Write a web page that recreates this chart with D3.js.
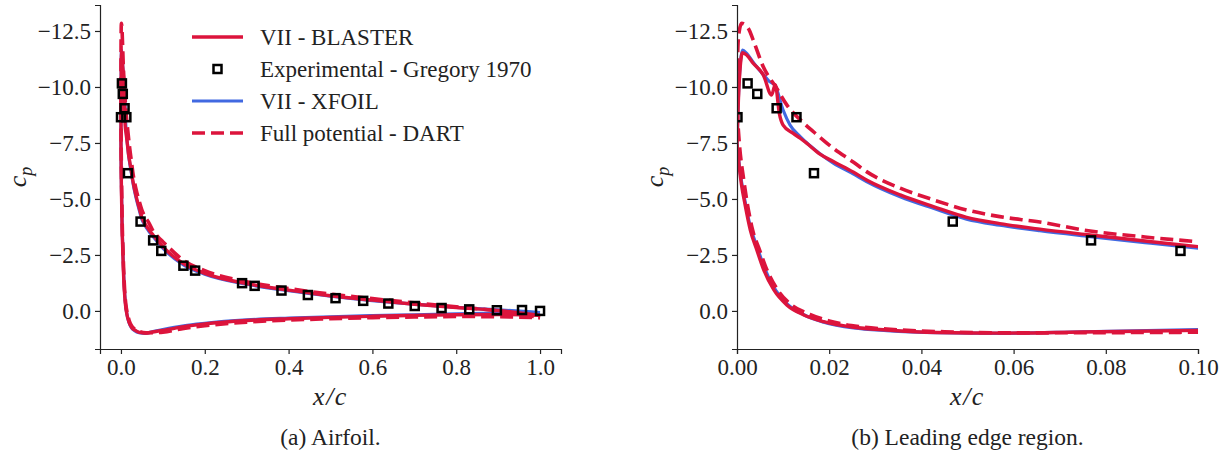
<!DOCTYPE html>
<html>
<head>
<meta charset="utf-8">
<script src="https://cdn.jsdelivr.net/npm/d3@7"></script>
<style>
  html, body { margin: 0; padding: 0; background: #fff; }
  svg { display: block; }
  text { font-family: "Liberation Serif", "Times New Roman", serif; fill: #222; }
</style>
</head>
<body>
<svg id="chart" width="1225" height="454"></svg>
<script>
// ---------- DATA ----------
const yTicks = [-12.5, -10.0, -7.5, -5.0, -2.5, 0.0];
const xTicksFull = [0.0, 0.2, 0.4, 0.6, 0.8, 1.0];
const xTicksLE = [0.00, 0.02, 0.04, 0.06, 0.08, 0.10];

const legendLabels = ["VII - BLASTER", "Experimental - Gregory 1970", "VII - XFOIL", "Full potential - DART"];
const captions = ["(a) Airfoil.", "(b) Leading edge region."];

// Experimental - Gregory 1970
const expX  = [0.0001, 0.0023, 0.0044, 0.0086, 0.0129, 0.0167, 0.0468, 0.0768, 0.0962, 0.149, 0.177, 0.289, 0.319, 0.383, 0.446, 0.512, 0.578, 0.638, 0.701, 0.765, 0.831, 0.897, 0.957, 1.0];
const expCp = [-8.65, -10.16, -9.69, -9.05, -8.65, -6.15, -3.99, -3.15, -2.68, -2.02, -1.80, -1.24, -1.12, -0.91, -0.71, -0.57, -0.45, -0.33, -0.22, -0.13, -0.07, -0.03, -0.04, 0.0];

// VII - BLASTER
const blasterUpperX  = [0, 0.0003, 0.0007, 0.0012, 0.0021, 0.0035, 0.0057, 0.0075, 0.0083, 0.0092, 0.0100, 0.0122, 0.0137, 0.0151, 0.018, 0.0209, 0.0252, 0.0281, 0.0354, 0.0426, 0.0498, 0.057, 0.0657, 0.0766, 0.0885, 0.1, 0.15, 0.2, 0.3, 0.4, 0.5, 0.6, 0.7, 0.8, 0.9, 1.0];
const blasterUpperCp = [-7.5, -9.4, -10.9, -11.53, -11.43, -11.06, -10.54, -9.64, -10.1, -8.8, -8.3, -7.93, -7.71, -7.49, -7.0, -6.67, -6.2, -5.85, -5.18, -4.66, -4.18, -3.9, -3.65, -3.39, -3.12, -2.87, -2.1, -1.68, -1.22, -0.93, -0.68, -0.48, -0.3, -0.15, -0.02, 0.2];
const blasterLowerX  = [0, 0.0005, 0.0010, 0.0017, 0.0029, 0.0043, 0.0058, 0.008, 0.0108, 0.0145, 0.0188, 0.0253, 0.0325, 0.0434, 0.058, 0.0747, 0.1, 0.15, 0.2, 0.3, 0.4, 0.5, 0.6, 0.7, 0.8, 0.9, 1.0];
const blasterLowerCp = [-7.5, -6.4, -5.6, -4.8, -3.6, -2.72, -1.83, -0.94, -0.27, 0.18, 0.48, 0.73, 0.85, 0.96, 0.99, 0.94, 0.87, 0.7, 0.58, 0.43, 0.35, 0.29, 0.24, 0.2, 0.17, 0.16, 0.2];

// VII - XFOIL
const xfoilUpperX  = [0, 0.0003, 0.0007, 0.0012, 0.0021, 0.0035, 0.0057, 0.0070, 0.0082, 0.0100, 0.0115, 0.0137, 0.018, 0.0209, 0.0252, 0.0281, 0.0354, 0.0426, 0.0498, 0.057, 0.0657, 0.0766, 0.0885, 0.1, 0.15, 0.2, 0.3, 0.4, 0.5, 0.6, 0.7, 0.8, 0.9, 1.0];
const xfoilUpperCp = [-7.5, -9.5, -11.0, -11.65, -11.5, -11.1, -10.55, -10.25, -10.09, -8.97, -8.3, -7.78, -7.02, -6.6, -6.12, -5.78, -5.1, -4.58, -4.1, -3.83, -3.58, -3.32, -3.05, -2.8, -2.05, -1.64, -1.19, -0.9, -0.66, -0.46, -0.3, -0.16, -0.05, 0.07];
const xfoilLowerX  = [0, 0.0005, 0.0010, 0.0017, 0.0029, 0.0043, 0.0058, 0.008, 0.0108, 0.0145, 0.0188, 0.0253, 0.0325, 0.0434, 0.058, 0.075, 0.1, 0.15, 0.2, 0.3, 0.4, 0.5, 0.6, 0.7, 0.8, 0.9, 1.0];
const xfoilLowerCp = [-7.5, -6.5, -5.75, -4.95, -3.75, -2.9, -2.0, -1.05, -0.33, 0.17, 0.5, 0.76, 0.88, 0.97, 1.0, 0.93, 0.83, 0.66, 0.55, 0.4, 0.32, 0.26, 0.21, 0.17, 0.13, 0.1, 0.07];

// Full potential - DART
const dartUpperX  = [0, 0.0002, 0.0005, 0.001, 0.0025, 0.0035, 0.0057, 0.0086, 0.0108, 0.0144, 0.0166, 0.0209, 0.0252, 0.0281, 0.0354, 0.0426, 0.0498, 0.057, 0.065, 0.0766, 0.0885, 0.1, 0.15, 0.2, 0.3, 0.4, 0.5, 0.6, 0.7, 0.8, 0.9, 1.0];
const dartUpperCp = [-9.0, -11.8, -12.5, -12.84, -12.6, -12.1, -10.9, -9.94, -9.2, -8.4, -8.0, -7.26, -6.65, -6.22, -5.48, -4.96, -4.51, -4.21, -3.99, -3.57, -3.3, -3.09, -2.25, -1.8, -1.3, -1.0, -0.75, -0.55, -0.36, -0.18, 0.0, 0.3];
const dartLowerX  = [0, 0.0005, 0.0015, 0.0034, 0.0049, 0.0065, 0.0088, 0.0118, 0.0158, 0.02, 0.0265, 0.034, 0.045, 0.06, 0.08, 0.1, 0.15, 0.2, 0.3, 0.4, 0.5, 0.6, 0.7, 0.8, 0.9, 1.0];
const dartLowerCp = [-9.0, -7.5, -5.8, -3.6, -2.72, -1.83, -0.94, -0.27, 0.15, 0.45, 0.7, 0.83, 0.93, 0.98, 0.97, 0.95, 0.78, 0.66, 0.5, 0.41, 0.35, 0.3, 0.27, 0.25, 0.26, 0.3];

// ---------- CHART ----------
const RED = "#dc143c", BLUE = "#4169e1";
const svg = d3.select("#chart");
svg.append("rect").attr("width", 1225).attr("height", 454).attr("fill", "#fff");

const zip = (xs, ys) => xs.map((x, i) => [x, ys[i]]);
const series = [
  { up: zip(blasterUpperX, blasterUpperCp), lo: zip(blasterLowerX, blasterLowerCp), color: RED, width: 3.4, dash: null },
  { up: zip(xfoilUpperX, xfoilUpperCp), lo: zip(xfoilLowerX, xfoilLowerCp), color: BLUE, width: 3.2, dash: null },
  { up: zip(dartUpperX, dartUpperCp), lo: zip(dartLowerX, dartLowerCp), color: RED, width: 3.6, dash: "13,6" }
];
const drawOrder = [1, 0, 2];
const expPts = zip(expX, expCp);

const panels = [
  { x0: 100, x1: 561, domain: [-0.05, 1.05], ticks: xTicksFull, fmt: d3.format(".1f"), caption: captions[0], legend: true },
  { x0: 737, x1: 1198, domain: [0, 0.1], ticks: xTicksLE, fmt: d3.format(".2f"), caption: captions[1], legend: false }
];
const yTop = 5, yBot = 349;
const minus = s => s.replace("-", "\u2212");
const FS = 23;

panels.forEach((p, pi) => {
  const x = d3.scaleLinear().domain(p.domain).range([p.x0, p.x1]);
  const y = d3.scaleLinear().domain([-13.66, 1.7]).range([yTop, yBot]);
  const g = svg.append("g");
  const clipId = "clip" + pi;
  svg.append("clipPath").attr("id", clipId).append("rect")
    .attr("x", p.x0).attr("y", yTop).attr("width", p.x1 - p.x0).attr("height", yBot - yTop);

  const plot = g.append("g").attr("clip-path", `url(#${clipId})`);
  const line = d3.line().x(d => x(d[0])).y(d => y(d[1])).curve(d3.curveMonotoneX);

  drawOrder.forEach(si => {
    const s = series[si];
    [s.up, s.lo].forEach(arr => {
      plot.append("path").attr("d", line(arr))
        .attr("fill", "none").attr("stroke", s.color).attr("stroke-width", s.width)
        .attr("stroke-linejoin", "round")
        .attr("stroke-dasharray", s.dash);
    });
  });

  plot.selectAll("rect.exp").data(expPts).enter().append("rect")
    .attr("class", "exp")
    .attr("x", d => x(d[0]) - 4).attr("y", d => y(d[1]) - 4)
    .attr("width", 8).attr("height", 8)
    .attr("fill", "none").attr("stroke", "#000").attr("stroke-width", 2.5);

  // axes
  const ax = g.append("g").attr("transform", `translate(0,${yBot})`)
    .call(d3.axisBottom(x).tickValues(p.ticks).tickFormat(d => minus(p.fmt(d))).tickSizeOuter(0).tickSize(5).tickPadding(3));
  const ay = g.append("g").attr("transform", `translate(${p.x0},0)`)
    .call(d3.axisLeft(y).tickValues(yTicks).tickFormat(d => minus(d3.format(".1f")(d))).tickSizeOuter(0).tickSize(5).tickPadding(4));
  [ax, ay].forEach(a => {
    a.selectAll("text").attr("font-size", FS).attr("font-family", "Liberation Serif").attr("fill", "#222");
    a.select(".domain").attr("stroke", "#222").attr("stroke-width", 1.2);
    a.selectAll(".tick line").attr("stroke", "#222").attr("stroke-width", 1.2);
  });
  ax.selectAll("text").attr("dy", "0.8em");

  // axis labels
  g.append("text").attr("x", (p.x0 + p.x1) / 2).attr("y", 405)
    .attr("text-anchor", "middle").attr("font-size", 26).attr("font-style", "italic")
    .attr("letter-spacing", 1.5).text("x/c");
  const yl = g.append("text").attr("transform", `translate(${p.x0 - 74},${(yTop + yBot) / 2}) rotate(-90)`)
    .attr("text-anchor", "middle").attr("font-size", 26).attr("font-style", "italic");
  yl.append("tspan").text("c");
  yl.append("tspan").attr("font-size", 18).attr("dy", 6).text("p");

  // caption
  g.append("text").attr("x", (p.x0 + p.x1) / 2).attr("y", 445)
    .attr("text-anchor", "middle").attr("font-size", 23.5).text(p.caption);

  if (p.legend) {
    const lg = g.append("g");
    const rows = [
      { kind: "line", color: RED, dash: null, w: 3.4 },
      { kind: "marker" },
      { kind: "line", color: BLUE, dash: null, w: 3.2 },
      { kind: "line", color: RED, dash: "13,6", w: 3.6 }
    ];
    rows.forEach((r, i) => {
      const cy = 37 + i * 32;
      if (r.kind === "line") {
        lg.append("line").attr("x1", 192).attr("x2", 243).attr("y1", cy).attr("y2", cy)
          .attr("stroke", r.color).attr("stroke-width", r.w).attr("stroke-dasharray", r.dash);
      } else {
        lg.append("rect").attr("x", 213.5).attr("y", cy - 4).attr("width", 8).attr("height", 8)
          .attr("fill", "#fff").attr("stroke", "#000").attr("stroke-width", 2.5);
      }
      lg.append("text").attr("x", 260).attr("y", cy + 8).attr("font-size", FS).text(legendLabels[i]);
    });
  }
});
</script>
</body>
</html>
